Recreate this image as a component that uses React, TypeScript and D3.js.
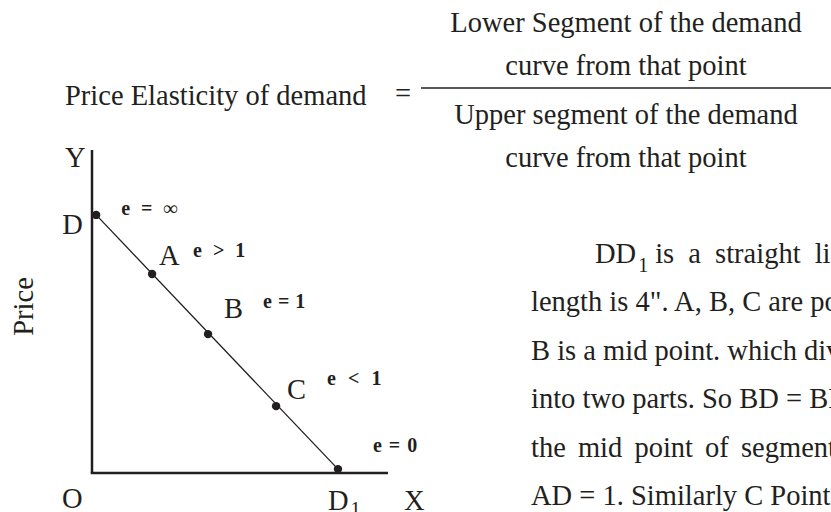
import React from "react";
import * as d3 from "d3";

// ---- data ----
const pointNames = ["D", "A", "B", "C", "D1"];
const quantity = [0.14, 2.03, 3.92, 6.22, 8.31];
const price = [7.99, 6.16, 4.3, 2.07, 0.12];
const elasticityLabels = ["e = ∞", "e > 1", "e = 1", "e < 1", "e = 0"];
const axisDomain = [0, 10];

const numeratorLines = ["Lower Segment of the demand", "curve from that point"];
const denominatorLines = ["Upper segment of the demand", "curve from that point"];
const formulaLeft = "Price Elasticity of demand";
const paragraphLines = [
  "is a straight line whose",
  "length is 4\". A, B, C are points on it.",
  "B is a mid point. which divides DD",
  "into two parts. So BD = BD",
  "the mid point of segment BD. so",
  "AD = 1. Similarly C Point is the",
];

const FONT = "'Liberation Serif', 'Times New Roman', serif";
const INK = "#231f20";

// layout of labels relative to points (pixels)
const nameOffsets = [
  [-34, 19],
  [7, -9],
  [16, -16],
  [11, -7],
  [-10, 41],
];
const eOffsets = [
  [25, 0],
  [41, -17],
  [55, -26],
  [51, -21],
  [35, -17],
];
const eWordSpacing = [6, 6, 1, 7, 2];

export default function App() {
  const x = d3.scaleLinear().domain(axisDomain).range([92, 388]);
  const y = d3.scaleLinear().domain(axisDomain).range([473, 150]);
  const pts = quantity.map((q, i) => ({ q, p: price[i], name: pointNames[i], e: elasticityLabels[i] }));
  const line = d3
    .line<{ q: number; p: number }>()
    .x((d) => x(d.q))
    .y((d) => y(d.p));
  const first = pts[0];
  const last = pts[pts.length - 1];

  const fs = 28.5;
  const headerCenter = 626;
  const paraX = 531;
  const paraY0 = 263;
  const paraStep = 48.4;

  return (
    <svg
      width={831}
      height={512}
      style={{ position: "absolute", left: 0, top: 0, background: "#fff" }}
      fontFamily={FONT}
      fill={INK}
    >
      <rect width={831} height={512} fill="#fff" />
      {/* formula */}
      {numeratorLines.map((t, i) => (
        <text key={"n" + i} x={headerCenter} y={32 + i * 43} fontSize={fs} textAnchor="middle">
          {t}
        </text>
      ))}
      <line x1={421} x2={831} y1={88} y2={88} stroke={INK} strokeWidth={1.6} />
      {denominatorLines.map((t, i) => (
        <text key={"d" + i} x={headerCenter} y={124 + i * 43} fontSize={fs} textAnchor="middle">
          {t}
        </text>
      ))}
      <text x={65} y={105} fontSize={fs}>
        {formulaLeft}
      </text>
      <text x={395} y={103} fontSize={fs}>
        =
      </text>

      {/* axes */}
      <line x1={x(0)} x2={x(0)} y1={y(axisDomain[1])} y2={y(0)} stroke={INK} strokeWidth={2.5} />
      <line x1={x(0) - 1.25} x2={x(axisDomain[1])} y1={y(0)} y2={y(0)} stroke={INK} strokeWidth={2.5} />
      <text x={x(0) - 27} y={y(axisDomain[1]) + 17} fontSize={fs}>
        Y
      </text>
      <text x={x(0) - 30} y={y(0) + 35} fontSize={fs}>
        O
      </text>
      <text x={x(axisDomain[1]) + 16} y={y(0) + 37} fontSize={fs}>
        X
      </text>
      <text
        transform={`translate(${x(0) - 59},${(y(0) + y(axisDomain[1])) / 2 - 5}) rotate(-90)`}
        fontSize={fs}
        textAnchor="middle"
      >
        Price
      </text>

      {/* demand line */}
      <path d={line([first, last]) || ""} fill="none" stroke={INK} strokeWidth={1.3} />
      {pts.map((d, i) => (
        <circle key={"c" + i} cx={x(d.q)} cy={y(d.p)} r={4.2} fill={INK} />
      ))}
      {pts.map((d, i) => (
        <text key={"l" + i} x={x(d.q) + nameOffsets[i][0]} y={y(d.p) + nameOffsets[i][1]} fontSize={fs}>
          {d.name.charAt(0)}
          {d.name.length > 1 ? (
            <tspan fontSize={20} dx={2} dy={6}>
              {d.name.slice(1)}
            </tspan>
          ) : null}
        </text>
      ))}
      {pts.map((d, i) => (
        <text
          key={"e" + i}
          x={x(d.q) + eOffsets[i][0]}
          y={y(d.p) + eOffsets[i][1]}
          fontSize={20}
          fontWeight="bold"
          wordSpacing={eWordSpacing[i]}
        >
          {d.e}
        </text>
      ))}

      {/* paragraph */}
      <text x={595} y={paraY0} fontSize={fs} wordSpacing={7}>
        DD
        <tspan fontSize={20} dx={2} dy={9}>
          1
        </tspan>
        <tspan dy={-9} dx={7}>
          {paragraphLines[0]}
        </tspan>
      </text>
      {paragraphLines.slice(1).map((t, i) => (
        <text
          key={"p" + i}
          x={paraX}
          y={paraY0 + (i + 1) * paraStep}
          fontSize={fs}
          wordSpacing={i === 3 ? 5 : 0}
        >
          {t}
        </text>
      ))}
    </svg>
  );
}
